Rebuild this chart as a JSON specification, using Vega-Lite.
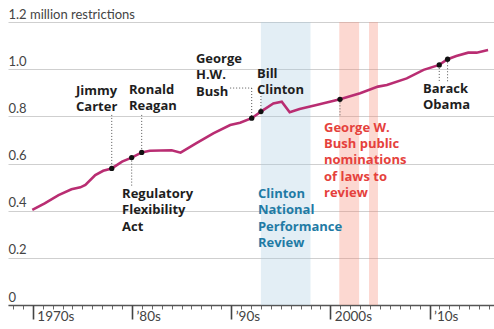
{
  "$schema": "https://vega.github.io/schema/vega-lite/v6.json",
  "width": 486,
  "height": 283,
  "autosize": {"type": "none"},
  "padding": {"left": 8, "top": 22, "right": 0, "bottom": 24},
  "config": {"view": {"stroke": null}, "font": "Lato"},
  "resolve": {"axis": {"x": "independent"}},
  "datasets": {
    "bands": [
      {"x": 1993.0, "x2": 1998.0, "g": "blue"},
      {"x": 2000.9, "x2": 2002.9, "g": "red"},
      {"x": 2003.9, "x2": 2004.8, "g": "red"}
    ],
    "leaders": [
      {"x": 1977.96, "x2": 1977.96, "y": 0.806, "y2": 0.579},
      {"x": 1980.98, "x2": 1980.98, "y": 0.806, "y2": 0.647},
      {"x": 1979.97, "x2": 1979.97, "y": 0.625, "y2": 0.5},
      {"x": 1989.9, "x2": 1992.07, "y": 0.92, "y2": 0.92},
      {"x": 1992.07, "x2": 1992.07, "y": 0.92, "y2": 0.792},
      {"x": 1993.0, "x2": 1993.0, "y": 0.886, "y2": 0.82},
      {"x": 2000.97, "x2": 2000.97, "y": 0.872, "y2": 0.797},
      {"x": 2010.98, "x2": 2010.98, "y": 1.018, "y2": 0.946},
      {"x": 2011.82, "x2": 2011.82, "y": 1.042, "y2": 0.946}
    ],
    "series": [
      {"x": 1969.95, "y": 0.403}, {"x": 1971.2, "y": 0.431}, {"x": 1972.6, "y": 0.466},
      {"x": 1973.9, "y": 0.491}, {"x": 1974.8, "y": 0.499}, {"x": 1975.3, "y": 0.509},
      {"x": 1976.3, "y": 0.551}, {"x": 1977.1, "y": 0.569}, {"x": 1977.96, "y": 0.579},
      {"x": 1979.0, "y": 0.608}, {"x": 1979.97, "y": 0.625}, {"x": 1980.98, "y": 0.647},
      {"x": 1981.8, "y": 0.654}, {"x": 1984.0, "y": 0.656}, {"x": 1984.9, "y": 0.646},
      {"x": 1986.5, "y": 0.686}, {"x": 1988.2, "y": 0.728}, {"x": 1989.9, "y": 0.763},
      {"x": 1990.9, "y": 0.773}, {"x": 1992.07, "y": 0.792}, {"x": 1993.0, "y": 0.82},
      {"x": 1994.25, "y": 0.855}, {"x": 1995.1, "y": 0.862}, {"x": 1995.9, "y": 0.817},
      {"x": 1996.9, "y": 0.831}, {"x": 1998.6, "y": 0.848}, {"x": 2000.97, "y": 0.872},
      {"x": 2003.0, "y": 0.898}, {"x": 2004.8, "y": 0.926}, {"x": 2005.7, "y": 0.933},
      {"x": 2007.7, "y": 0.961}, {"x": 2009.4, "y": 0.997}, {"x": 2010.98, "y": 1.018},
      {"x": 2011.82, "y": 1.042}, {"x": 2012.7, "y": 1.056}, {"x": 2013.9, "y": 1.07},
      {"x": 2014.75, "y": 1.07}, {"x": 2015.9, "y": 1.081}
    ],
    "dots": [
      {"x": 1977.96, "y": 0.579}, {"x": 1979.97, "y": 0.625}, {"x": 1980.98, "y": 0.647},
      {"x": 1992.07, "y": 0.792}, {"x": 1993.0, "y": 0.82}, {"x": 2000.97, "y": 0.872},
      {"x": 2010.98, "y": 1.018}, {"x": 2011.82, "y": 1.042}
    ],
    "notes": [
      {"x": 1974.36, "y": 0.89, "label": "Jimmy\nCarter", "g": "k"},
      {"x": 1979.7, "y": 0.895, "label": "Ronald\nReagan", "g": "k"},
      {"x": 1986.45, "y": 1.026, "label": "George\nH.W.\nBush", "g": "k"},
      {"x": 1992.6, "y": 0.963, "label": "Bill\nClinton", "g": "k"},
      {"x": 1979.0, "y": 0.454, "label": "Regulatory\nFlexibility\nAct", "g": "k"},
      {"x": 1999.36, "y": 0.734, "label": "George W.\nBush public\nnominations\nof laws to\nreview", "g": "red"},
      {"x": 1992.7, "y": 0.454, "label": "Clinton\nNational\nPerformance\nReview", "g": "blue"},
      {"x": 2009.34, "y": 0.899, "label": "Barack\nObama", "g": "k"}
    ]
  },
  "layer": [
    {
      "data": {"name": "bands"},
      "mark": {"type": "rect", "opacity": 0.32},
      "encoding": {
        "x": {
          "field": "x", "type": "quantitative",
          "scale": {"domain": [1967.5, 2016.5], "nice": false, "zero": false},
          "axis": {
            "title": null,
            "orient": "bottom",
            "values": [1968,1969,1970,1971,1972,1973,1974,1975,1976,1977,1978,1979,1980,1981,1982,1983,1984,1985,1986,1987,1988,1989,1990,1991,1992,1993,1994,1995,1996,1997,1998,1999,2000,2001,2002,2003,2004,2005,2006,2007,2008,2009,2010,2011,2012,2013,2014,2015,2016],
            "grid": false,
            "labels": false,
            "domain": true,
            "domainColor": "#555",
            "domainWidth": 1.5,
            "ticks": true,
            "tickColor": "#666",
            "tickSize": 4,
            "tickWidth": 1
          }
        },
        "x2": {"field": "x2"},
        "y": {"datum": 0, "type": "quantitative", "scale": {"domain": [0, 1.2], "nice": false}},
        "y2": {"datum": 1.2},
        "color": {"condition": {"test": "datum.g === 'blue'", "value": "#a9cbe0"}, "value": "#f5876f"}
      }
    },
    {
      "data": {"name": "leaders"},
      "mark": {"type": "rule", "strokeDash": [1, 2], "color": "#555", "strokeWidth": 1},
      "encoding": {
        "x": {"field": "x", "type": "quantitative", "scale": {"domain": [1967.5, 2016.5], "nice": false, "zero": false}, "axis": null},
        "x2": {"field": "x2"},
        "y": {"field": "y", "type": "quantitative", "scale": {"domain": [0, 1.2], "nice": false}},
        "y2": {"field": "y2"}
      }
    },
    {
      "data": {"name": "series"},
      "mark": {"type": "line", "color": "#b92d72", "strokeWidth": 2.6, "interpolate": "linear"},
      "encoding": {
        "x": {
          "field": "x", "type": "quantitative",
          "scale": {"domain": [1967.5, 2016.5], "nice": false, "zero": false},
          "axis": {
            "title": null,
            "orient": "bottom",
            "values": [1970, 1980, 1990, 2000, 2010],
            "grid": false,
            "domain": false,
            "ticks": true,
            "tickColor": "#444",
            "tickSize": 14,
            "tickWidth": 1.6,
            "labelExpr": "datum.value === 1970 ? '1970s' : datum.value === 1980 ? '’80s' : datum.value === 1990 ? '’90s' : datum.value === 2000 ? '2000s' : '’10s'",
            "labelAlign": "left",
            "labelBaseline": "top",
            "labelPadding": -10,
            "labelOffset": 4,
            "labelFont": "Lato",
            "labelFontSize": 13.5,
            "labelColor": "#444",
            "labelOverlap": false,
            "labelBound": false,
            "labelFlush": false
          }
        },
        "y": {
          "field": "y", "type": "quantitative",
          "scale": {"domain": [0, 1.2], "nice": false},
          "axis": {
            "title": null,
            "values": [0, 0.2, 0.4, 0.6, 0.8, 1.0, 1.2],
            "domain": false,
            "ticks": false,
            "grid": true,
            "gridColor": "#cfcfcf",
            "gridWidth": 1.2,
            "labelAlign": "left",
            "labelPadding": 0,
            "labelBaseline": "alphabetic",
            "labelOffset": -4,
            "labelFont": "Lato",
            "labelFontSize": 13,
            "labelColor": "#444",
            "labelBound": false,
            "labelOverlap": false,
            "labelExpr": "datum.value === 1.2 ? '1.2 million restrictions' : datum.value === 0 ? '0' : format(datum.value, '.1f')"
          }
        }
      }
    },
    {
      "data": {"name": "dots"},
      "mark": {"type": "circle", "color": "#111", "opacity": 1, "size": 28},
      "encoding": {
        "x": {"field": "x", "type": "quantitative", "scale": {"domain": [1967.5, 2016.5], "nice": false, "zero": false}, "axis": null},
        "y": {"field": "y", "type": "quantitative", "scale": {"domain": [0, 1.2], "nice": false}}
      }
    },
    {
      "data": {"name": "notes"},
      "mark": {"type": "text", "align": "left", "baseline": "alphabetic", "font": "Open Sans", "fontWeight": "bold", "fontSize": 13, "lineBreak": "\n", "lineHeight": 16.3},
      "encoding": {
        "x": {"field": "x", "type": "quantitative", "scale": {"domain": [1967.5, 2016.5], "nice": false, "zero": false}, "axis": null},
        "y": {"field": "y", "type": "quantitative", "scale": {"domain": [0, 1.2], "nice": false}},
        "text": {"field": "label"},
        "color": {"condition": [{"test": "datum.g === 'red'", "value": "#e5413c"}, {"test": "datum.g === 'blue'", "value": "#1f7ba5"}], "value": "#1e1e1e"}
      }
    }
  ]
}
